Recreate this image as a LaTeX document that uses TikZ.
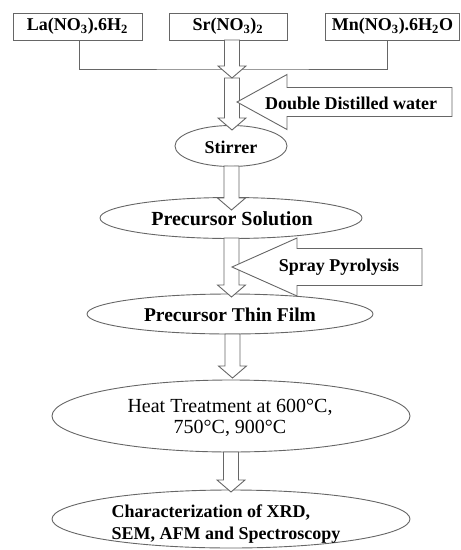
\documentclass[tikz,border=0pt]{standalone}
\usepackage{fontspec}
\setmainfont{Liberation Serif}
\usetikzlibrary{shapes.geometric,calc}
\tikzset{
  ln/.style={draw=black!60, line width=0.9pt},
  box/.style={ln, rectangle, inner sep=0pt, font=\fontsize{18}{20}\selectfont\bfseries},
  ell/.style={ln, ellipse, inner sep=0pt},
  txt/.style={inner sep=0pt, font=\fontsize{18}{22}\selectfont\bfseries},
  hollow/.style={ln, fill=white, line join=miter},
}
\newcommand{\hdarrow}[2]{\draw[hollow] let \p1=(#1), \p2=(#2) in
  (\x1-7.5pt,\y1) -- (\x1-7.5pt,\y2+12pt) -- (\x1-14pt,\y2+12pt) -- (\x1,\y2)
  -- (\x1+14pt,\y2+12pt) -- (\x1+7.5pt,\y2+12pt) -- (\x1+7.5pt,\y1) -- cycle;}
\begin{document}
\begin{tikzpicture}[x=1pt,y=-1pt]
\useasboundingbox (0,0) rectangle (461,550);
% top boxes
\node[box, minimum width=129, minimum height=27] (la) at (77.5,26.5) {La(NO\textsubscript{3}).6H\textsubscript{2}};
\node[box, minimum width=118, minimum height=27] (sr) at (228,26.5) {Sr(NO\textsubscript{3})\textsubscript{2}};
\node[box, minimum width=134, minimum height=27] (mn) at (392.5,26.5) {Mn(NO\textsubscript{3}).6H\textsubscript{2}O};
\coordinate (junc) at (232,69);
\draw[ln] ([xshift=1.5pt]la.south) |- (junc) -| ([xshift=-5.5pt]mn.south);
% ellipses
\node[ell, minimum width=112, minimum height=41] (stir) at (231,146) {};
\node[txt] (stirt) at (231,147) {Stirrer};
\node[ell, minimum width=262, minimum height=41] (sol) at (231,218) {};
\node[txt, font=\fontsize{20}{22}\selectfont\bfseries] (solt) at (232,219) {Precursor Solution};
\node[ell, minimum width=286, minimum height=40] (film) at (230,314) {};
\node[txt, font=\fontsize{19.5}{22}\selectfont\bfseries] (filmt) at (230,315) {Precursor Thin Film};
\node[ell, minimum width=358, minimum height=72] (heat) at (231,416) {};
\node[txt, font=\fontsize{20}{20.5}\selectfont, align=center] (heatt) at (230,418) {Heat Treatment at 600°C,\\750°C, 900°C};
\node[ell, minimum width=358, minimum height=58] (char) at (231,519) {};
\node[txt, align=left] (chart) at (226,524) {Characterization of XRD,\\SEM, AFM and Spectroscopy};
% hollow down arrows
\coordinate (a1s) at (232,40);   \coordinate (a1t) at (232,78);
\coordinate (a2s) at (232,78);   \coordinate (a2t) at (232,130);
\coordinate (a3s) at (231.5,166); \coordinate (a3t) at (231.5,210);
\coordinate (a4s) at (231.5,238); \coordinate (a4t) at (231.5,297);
\coordinate (a5s) at (232.5,334); \coordinate (a5t) at (232.5,378);
\coordinate (a6s) at (231,452);  \coordinate (a6t) at (231,492);
\hdarrow{a2s}{a2t}
\hdarrow{a1s}{a1t}
\hdarrow{a3s}{a3t}
\hdarrow{a4s}{a4t}
\hdarrow{a5s}{a5t}
\hdarrow{a6s}{a6t}
% side block arrows
\draw[hollow] (237,102) -- (287,74.5) -- (287,87.5) -- (452,87.5) -- (452,116.5)
  -- (287,116.5) -- (287,129.5) -- cycle;
\node[txt] (ddw) at (351,103) {Double Distilled water};
\draw[hollow] (232,267) -- (297,238) -- (297,248.5) -- (422,248.5) -- (422,285.5)
  -- (297,285.5) -- (297,296) -- cycle;
\node[txt] (spray) at (339,267) {Spray Pyrolysis};
\end{tikzpicture}
\end{document}
